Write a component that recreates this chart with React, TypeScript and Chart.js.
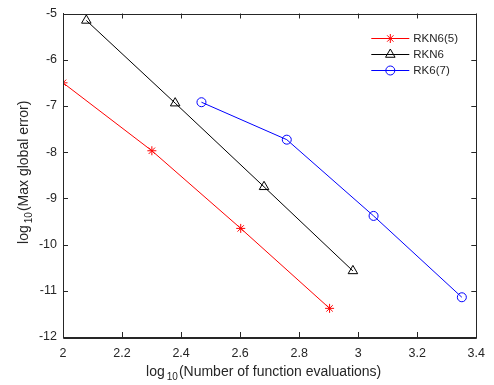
import React, { useEffect, useRef } from 'react';
import { Chart, registerables } from 'chart.js';
import { drawPoint } from 'chart.js/helpers';

Chart.register(...registerables);

// ---- data ----
const xRKN65 = [2.0, 2.301, 2.602, 2.903];
const yRKN65 = [-6.5, -7.97, -9.65, -11.38];
const xRKN6 = [2.079, 2.38, 2.681, 2.982];
const yRKN6 = [-5.15, -6.94, -8.75, -10.57];
const xRK67 = [2.469, 2.758, 3.052, 3.351];
const yRK67 = [-6.92, -7.73, -9.38, -11.14];
const seriesNames = ['RKN6(5)', 'RKN6', 'RK6(7)'];
const xTicks = [2, 2.2, 2.4, 2.6, 2.8, 3, 3.2, 3.4];
const yTicks = [-12, -11, -10, -9, -8, -7, -6, -5];
const xTitle = ['log', '10', '(Number of function evaluations)'];
const yTitle = ['log', '10', '(Max global error)'];

const FONT = "'Liberation Sans', Arial, Helvetica, sans-serif";
const AXIS = '#262626';

const toPts = (xs: number[], ys: number[]) => xs.map((x, i) => ({ x, y: ys[i] }));

const fmt = (v: number) => String(Number(v.toFixed(1)));

function drawSubTitle(ctx: CanvasRenderingContext2D, parts: string[], cx: number, cy: number, rotate: boolean) {
  ctx.save();
  ctx.translate(cx, cy);
  if (rotate) ctx.rotate(-Math.PI / 2);
  const main = `14px ${FONT}`;
  const sub = `10px ${FONT}`;
  ctx.font = main;
  const w0 = ctx.measureText(parts[0]).width;
  const w2 = ctx.measureText(parts[2]).width;
  ctx.font = sub;
  const w1 = ctx.measureText(parts[1]).width + 3;
  const total = w0 + w1 + w2;
  let x = -total / 2;
  ctx.fillStyle = AXIS;
  ctx.textBaseline = 'alphabetic';
  ctx.textAlign = 'left';
  ctx.font = main;
  ctx.fillText(parts[0], x, 5);
  x += w0 + 2;
  ctx.font = sub;
  ctx.fillText(parts[1], x, 9);
  x += w1 - 2;
  ctx.font = main;
  ctx.fillText(parts[2], x, 5);
  ctx.restore();
}

const framePlugin = {
  id: 'frame',
  afterDraw(chart: any) {
    const { ctx, chartArea: a, scales } = chart;
    ctx.save();
    ctx.strokeStyle = AXIS;
    ctx.lineWidth = 1;
    ctx.beginPath();
    ctx.rect(Math.round(a.left) + 0.5, Math.round(a.top) + 0.5, Math.round(a.right - a.left), Math.round(a.bottom - a.top));
    ctx.stroke();
    const L = 5;
    ctx.beginPath();
    xTicks.forEach((t) => {
      const px = Math.round(scales.x.getPixelForValue(t)) + 0.5;
      ctx.moveTo(px, a.bottom);
      ctx.lineTo(px, a.bottom - L);
      ctx.moveTo(px, a.top);
      ctx.lineTo(px, a.top + L);
    });
    yTicks.forEach((t) => {
      const py = Math.round(scales.y.getPixelForValue(t)) + 0.5;
      ctx.moveTo(a.left, py);
      ctx.lineTo(a.left + L, py);
      ctx.moveTo(a.right, py);
      ctx.lineTo(a.right - L, py);
    });
    ctx.stroke();

    // axis titles
    drawSubTitle(ctx, xTitle, (a.left + a.right) / 2 - 6, 371, false);
    drawSubTitle(ctx, yTitle, 23, (a.top + a.bottom) / 2 - 3, true);

    // legend
    const lx0 = a.right - 105;
    const lx1 = a.right - 67;
    const ly0 = a.top + 24;
    const dy = 16.2;
    chart.data.datasets.forEach((ds: any, i: number) => {
      const y = Math.round(ly0 + i * dy) + 0.5;
      ctx.strokeStyle = ds.borderColor;
      ctx.lineWidth = 1;
      ctx.beginPath();
      ctx.moveTo(lx0, y);
      ctx.lineTo(lx1, y);
      ctx.stroke();
      ctx.fillStyle = 'rgba(0,0,0,0)';
      drawPoint(ctx, { pointStyle: ds.pointStyle, radius: ds.pointRadius, rotation: 0, borderWidth: 1 }, (lx0 + lx1) / 2, y);
      ctx.fillStyle = AXIS;
      ctx.font = `11.5px ${FONT}`;
      ctx.textBaseline = 'middle';
      ctx.textAlign = 'left';
      ctx.fillText(seriesNames[i], lx1 + 4, y);
    });
    ctx.restore();
  },
};

export default function App() {
  const ref = useRef<HTMLCanvasElement | null>(null);
  useEffect(() => {
    document.body.style.margin = '0';
    const canvas = ref.current!;
    const mk = (label: string, pts: any, color: string, style: string, r: number) => ({
      label,
      data: pts,
      borderColor: color,
      backgroundColor: 'rgba(0,0,0,0)',
      borderWidth: 1,
      pointStyle: style,
      pointRadius: r,
      pointBorderWidth: 1,
      pointBorderColor: color,
      pointBackgroundColor: 'rgba(0,0,0,0)',
      showLine: true,
      fill: false,
      tension: 0,
    });
    const chart = new Chart(canvas, {
      type: 'scatter',
      data: {
        datasets: [
          mk(seriesNames[0], toPts(xRKN65, yRKN65), '#ff0000', 'star', 4.5),
          mk(seriesNames[1], toPts(xRKN6, yRKN6), '#000000', 'triangle', 5.5),
          mk(seriesNames[2], toPts(xRK67, yRK67), '#0000ff', 'circle', 4.5),
        ],
      },
      options: {
        animation: false,
        responsive: false,
        devicePixelRatio: 1,
        layout: { padding: { left: 0, right: 11, top: 10, bottom: 0 } },
        plugins: { legend: { display: false }, tooltip: { enabled: false } },
        scales: {
          x: {
            type: 'linear',
            min: 2,
            max: 3.4,
            afterBuildTicks: (s: any) => { s.ticks = xTicks.map((v) => ({ value: v })); },
            afterFit: (s: any) => { s.height = 48; },
            grid: { display: false, drawTicks: false },
            border: { display: true, color: AXIS, width: 1 },
            ticks: { padding: 9, color: AXIS, font: { family: FONT, size: 12.5 }, callback: (v: any) => fmt(Number(v)), maxRotation: 0, autoSkip: false },
          },
          y: {
            type: 'linear',
            min: -12,
            max: -5,
            afterBuildTicks: (s: any) => { s.ticks = yTicks.map((v) => ({ value: v })); },
            afterFit: (s: any) => { s.width = 63; },
            grid: { display: false, drawTicks: false },
            border: { display: true, color: AXIS, width: 1 },
            ticks: { padding: 6, color: AXIS, font: { family: FONT, size: 12.5 }, callback: (v: any) => fmt(Number(v)), autoSkip: false },
          },
        },
      },
      plugins: [framePlugin],
    });
    return () => chart.destroy();
  }, []);
  return (
    <div style={{ width: 494, height: 385, background: '#fff' }}>
      <canvas ref={ref} width={494} height={385} style={{ display: 'block', width: 494, height: 385 }} />
    </div>
  );
}
